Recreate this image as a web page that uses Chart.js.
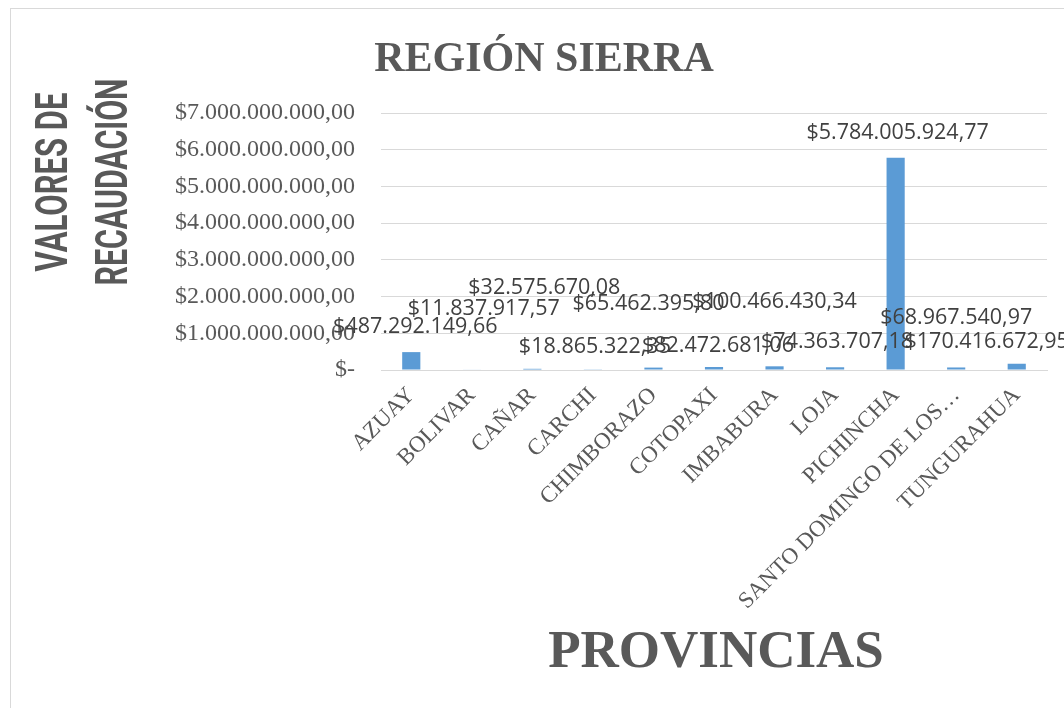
<!DOCTYPE html>
<html>
<head>
<meta charset="utf-8">
<script src="https://cdn.jsdelivr.net/npm/chart.js@4"></script>
<style>
  html, body { margin: 0; padding: 0; background: #fff; overflow: hidden; }
  #frame { position: absolute; left: 10px; top: 8px; width: 1200px; height: 900px; border: 1px solid #d9d9d9; }
  #chart { position: absolute; left: 0; top: 0; }
</style>
</head>
<body>
<div id="frame"></div>
<canvas id="chart" width="1064" height="708"></canvas>
<script>
// provincias de la sierra
const provincias = ["AZUAY", "BOLIVAR", "CAÑAR", "CARCHI", "CHIMBORAZO", "COTOPAXI", "IMBABURA", "LOJA", "PICHINCHA", "SANTO DOMINGO DE LOS…", "TUNGURAHUA"];

// valores de recaudación
const valores = [487292149.66, 11837917.57, 32575670.08, 18865322.35, 65462395.80, 82472681.06, 100466430.34, 74363707.18, 5784005924.77, 68967540.97, 170416672.95];

// eje y
const yMin = 0;
const yMax = 7000000000;
const yStep = 1000000000;

// labels were moved by hand in the original, offsets from bar top (dx, dy)
const labelOffsets = [[4, -25], [12, -61], [12, -81], [2, -22], [-5, -64], [4, -21], [0, -64], [2, -25], [2, -25], [0, -50], [-30, -22]];

const gray = "#595959";

function money(v) {
  const parts = v.toFixed(2).split(".");
  return "$" + parts[0].replace(/\B(?=(\d{3})+(?!\d))/g, ".") + "," + parts[1];
}

// titles and data labels
const textPlugin = {
  id: "textPlugin",
  afterDatasetsDraw(chart) {
    const ctx = chart.ctx;
    const meta = chart.getDatasetMeta(0);
    ctx.save();
    ctx.font = '21.5px "Open Sans"';
    ctx.fillStyle = "#404040";
    ctx.textAlign = "center";
    ctx.textBaseline = "middle";
    meta.data.forEach((bar, i) => {
      const off = labelOffsets[i];
      ctx.fillText(money(valores[i]), bar.x + off[0], bar.y + off[1]);
    });
    ctx.restore();
  },
  afterDraw(chart) {
    const ctx = chart.ctx;
    ctx.save();
    ctx.fillStyle = gray;
    ctx.textAlign = "center";
    ctx.textBaseline = "middle";

    ctx.font = 'bold 42px "Liberation Serif"';
    ctx.fillText("REGIÓN SIERRA", 544, 60);

    ctx.font = 'bold 53px "Liberation Serif"';
    ctx.fillText("PROVINCIAS", 716, 653);

    // y title, condensed bold sans
    ctx.font = 'bold 44px Roboto';
    const lines = [["VALORES DE", 54, 179], ["RECAUDACIÓN", 114, 207]];
    lines.forEach(l => {
      const w = ctx.measureText(l[0]).width;
      ctx.save();
      ctx.translate(l[1], 182);
      ctx.rotate(-Math.PI / 2);
      ctx.scale(l[2] / w, 1);
      ctx.fillText(l[0], 0, 2);
      ctx.restore();
    });
    ctx.restore();
  }
};

const ctx = document.getElementById("chart").getContext("2d");

new Chart(ctx, {
  type: "bar",
  data: {
    labels: provincias,
    datasets: [
      {
        label: "Recaudación",
        data: valores,
        backgroundColor: "#5b9bd5",
        borderWidth: 0,
        categoryPercentage: 1,
        barPercentage: 0.3,
      },
    ],
  },
  options: {
    responsive: false,
    animation: false,
    layout: {
      padding: { top: 113, right: 17, bottom: 0, left: 0 },
    },
    plugins: {
      legend: { display: false },
      tooltip: { enabled: false },
    },
    scales: {
      x: {
        grid: { display: false, drawTicks: false },
        border: { display: true, color: "#d9d9d9", width: 1 },
        ticks: {
          autoSkip: false,
          minRotation: 45,
          maxRotation: 45,
          padding: 12,
          color: gray,
          font: { family: "Liberation Serif", size: 23 },
        },
        afterFit(scale) {
          scale.height = 338;
        },
      },
      y: {
        min: yMin,
        max: yMax,
        grid: { color: "#d9d9d9", lineWidth: 1, drawTicks: false },
        border: { display: false },
        ticks: {
          stepSize: yStep,
          padding: 26,
          color: gray,
          font: { family: "Liberation Serif", size: 24 },
          callback: (v) => (v === 0 ? "$-" : money(v)),
        },
        afterFit(scale) {
          scale.width = 381;
        },
      },
    },
  },
  plugins: [textPlugin],
});
</script>
</body>
</html>
